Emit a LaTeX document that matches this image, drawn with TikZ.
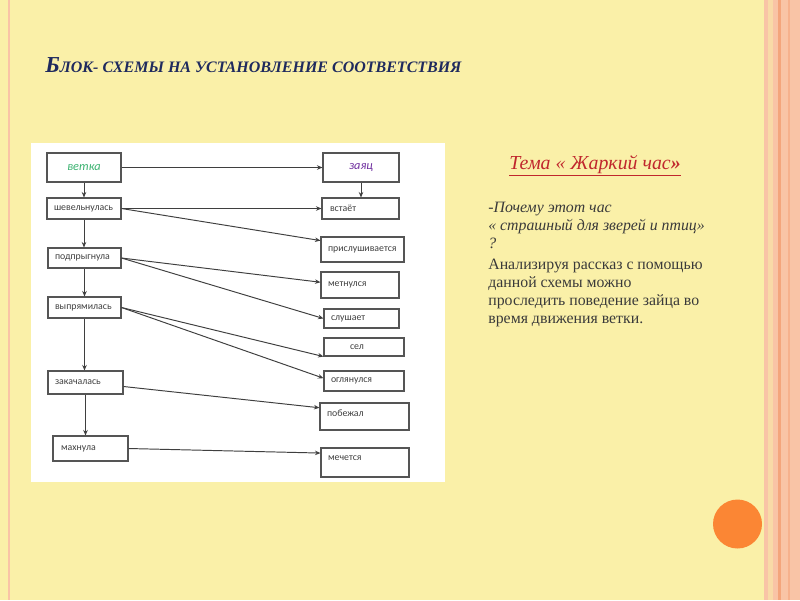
\documentclass[tikz,border=0pt]{standalone}
\usepackage{fontspec}
\setmainfont{Liberation Serif}
\newfontfamily\boxfont{Carlito}
\usetikzlibrary{arrows.meta, positioning}
\definecolor{cSlide}{HTML}{FAF0A8}
\definecolor{cPink}{HTML}{F9C4A6}
\definecolor{cDeep}{HTML}{F4A57C}
\definecolor{cBorder}{HTML}{555555}
\definecolor{cLine}{HTML}{3F3F3F}
\definecolor{cBoxText}{HTML}{404040}
\definecolor{cGreen}{HTML}{3CB371}
\definecolor{cPurple}{HTML}{7030A0}
\definecolor{cNavy}{HTML}{1F2A5E}
\definecolor{cRed}{HTML}{C0272D}
\definecolor{cText}{HTML}{3A3A3A}
\definecolor{cOrange}{HTML}{FB8634}
\tikzset{
	vbox/.style={rectangle, draw=cBorder, line width=0.6pt, fill=white, align=left, inner xsep=0.14cm, inner ysep=0pt, text=cBoxText, font=\boxfont\fontsize{5.6}{6.5}\selectfont},
	headbox/.style={vbox, align=center, minimum width=1.48cm, minimum height=0.58cm, font=\boxfont\fontsize{7}{8}\selectfont\itshape},
	flowarrow/.style={-{Stealth[length=1.1mm, width=0.9mm]}, line width=0.55pt, draw=cLine},
}
\begin{document}
\begin{tikzpicture}[x=0.02cm, y=-0.02cm]
	\useasboundingbox (0,0) rectangle (800,600);
	% slide background
	\fill[cSlide] (0,0) rectangle (800,600);
	\fill[cPink] (8,0) rectangle (10,600);
	\fill[cPink] (764,0) rectangle (800,600);
	\fill[cSlide!50!cPink] (768,0) rectangle (773,600);
	\fill[cDeep] (778,0) rectangle (781,600);
	\fill[cDeep!60!cPink] (788,0) rectangle (790,600);
	\fill[cOrange] (737.5,524) circle (0.49cm);
	\fill[white] (31,143) rectangle (445,482);

	\node[anchor=base west, inner sep=0, text=cNavy, font=\bfseries\itshape] (title) at (45,72)
		{{\fontsize{13}{15}\selectfont Б}{\fontsize{9.1}{11}\selectfont ЛОК- СХЕМЫ НА УСТАНОВЛЕНИЕ СООТВЕТСТВИЯ}};

	% left column: the branch
	\node[headbox, text=cGreen] (vetka) at (84,167.5) {ветка};
	\node[vbox, text width=1.20cm, minimum height=0.42cm] (shev) at (84,208.5) {шевельнулась};
	\node[vbox, text width=1.18cm, minimum height=0.40cm] (podpr) at (84.5,258) {подпрыгнула};
	\node[vbox, text width=1.18cm, minimum height=0.42cm] (vypr) at (84.5,307.5) {выпрямилась};
	\node[vbox, text width=1.22cm, minimum height=0.46cm] (zakach) at (85.5,382.5) {закачалась};
	\node[vbox, text width=1.18cm, inner xsep=0.16cm, minimum height=0.50cm] (makh) at (90.5,448.5) {махнула};

	% right column: the hare
	\node[headbox, minimum width=1.52cm, text=cPurple] (zayac) at (361,167.5) {заяц};
	\node[vbox, text width=1.22cm, inner xsep=0.16cm, minimum height=0.42cm] (vstaet) at (360.5,208.5) {встаёт};
	\node[vbox, text width=1.38cm, minimum height=0.50cm] (prisl) at (362.5,249.5) {прислушивается};
	\node[vbox, text width=1.28cm, minimum height=0.52cm] (metn) at (360,285) {метнулся};
	\node[vbox, text width=1.22cm, minimum height=0.38cm] (slush) at (361.5,318.5) {слушает};
	\node[vbox, text width=1.32cm, minimum height=0.36cm] (sel) at (364,347) {\hspace*{0.38cm}сел};
	\node[vbox, text width=1.32cm, minimum height=0.40cm] (ogl) at (364,381) {оглянулся};
	\node[vbox, text width=1.50cm, minimum height=0.54cm, text depth=0.14cm] (pobezh) at (364.5,416.5) {побежал};
	\node[vbox, text width=1.48cm, minimum height=0.58cm, text depth=0.16cm] (mech) at (365,462.5) {мечется};

	\draw[flowarrow] (vetka.south) -- (shev.north);
	\draw[flowarrow] (shev.south) -- (shev.south |- podpr.north);
	\draw[flowarrow] (podpr.south) -- (podpr.south |- vypr.north);
	\draw[flowarrow] (vypr.south) -- (vypr.south |- zakach.north);
	\draw[flowarrow] (zakach.south) -- (zakach.south |- makh.north);
	\draw[flowarrow] (zayac.south) -- (zayac.south |- vstaet.north);

	\draw[flowarrow] (vetka.east) -- (zayac.west);
	\draw[flowarrow] (shev.east) -- (vstaet.west);
	\draw[flowarrow] (shev.east) -- (prisl.168);
	\draw[flowarrow] (podpr.east) -- (metn.176);
	\draw[flowarrow] (podpr.east) -- (slush.west);
	\draw[flowarrow] (vypr.east) -- (sel.south west);
	\draw[flowarrow] (vypr.east) -- (ogl.176);
	\draw[flowarrow] (zakach.-6) -- (pobezh.169);
	\draw[flowarrow] (makh.east) -- (mech.168);

	% task text
	\node[anchor=base west, inner sep=0, text=cRed, font=\fontsize{11.3}{13}\selectfont\itshape] (tema) at (509,169)
		{\underline{Тема « Жаркий час{\bfseries»}}};
	\node[anchor=north west, inner sep=0, align=left, text=cText, font=\fontsize{9}{10.2}\selectfont] (quest) at (488,202)
		{{\itshape -Почему этот час}\\
		 {\itshape « страшный для зверей и птиц»}\\
		 {\itshape ?}\\[2pt]
		 Анализируя рассказ с помощью\\
		 данной схемы можно\\
		 проследить поведение зайца во\\
		 время движения ветки.};
\end{tikzpicture}
\end{document}
